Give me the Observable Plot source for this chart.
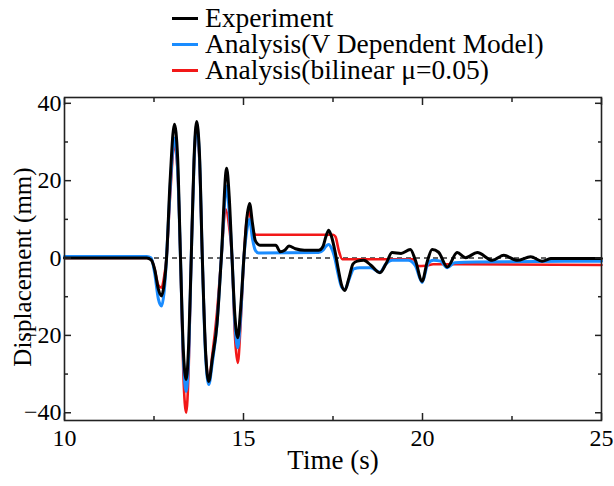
<!DOCTYPE html>
<html><head><meta charset="utf-8">
<script src="https://cdn.jsdelivr.net/npm/d3@7"></script>
<script src="https://cdn.jsdelivr.net/npm/@observablehq/plot@0.6"></script>
<style>
body{margin:0;background:#fff;font-family:"Liberation Serif",serif;}
#legend{position:relative;width:614px;height:86px;}
.row{position:absolute;left:172px;height:26px;display:flex;align-items:center;color:#000;white-space:nowrap}
.sw{width:26px;height:3px;margin-right:7px;flex:none}
.tx{display:block;height:26px;line-height:26px;font-size:27.5px;overflow:visible}
#chart svg{display:block}
#chart svg text{font-family:"Liberation Serif",serif !important;}
</style></head><body>
<div id="legend"></div><div id="chart"></div>
<script>
// Series names and colours
const seriesNames = ["Experiment", "Analysis(V Dependent Model)", "Analysis(bilinear μ=0.05)"];
const seriesColors = ["#000000", "#1a8cff", "#f21818"];

// Experiment (black)
const expT = [10, 12.3, 12.42, 12.52, 12.62, 12.71, 12.78, 12.85, 12.95, 13.07, 13.16, 13.24, 13.32, 13.40, 13.47, 13.54, 13.62, 13.69, 13.77, 13.85, 13.94, 14.03, 14.13, 14.26, 14.38, 14.53, 14.6, 14.68, 14.76, 14.84, 14.92, 15.01, 15.09, 15.17, 15.25, 15.33, 15.46, 15.9, 16.03, 16.15, 16.27, 16.45, 16.7, 17.1, 17.22, 17.3, 17.38, 17.46, 17.55, 17.64, 17.74, 17.83, 17.95, 18.06, 18.18, 18.36, 18.55, 18.81, 18.98, 19.15, 19.4, 19.66, 19.8, 19.99, 20.13, 20.27, 20.45, 20.69, 20.97, 21.2, 21.53, 21.95, 22.27, 22.65, 23.02, 23.34, 23.6, 25];
const expV = [0, 0, -0.5, -3, -8, -9.8, -7, 0, 20, 34.6, 26, 0, -24, -31.4, -22, 0, 26, 35.3, 27, 0, -24, -31.9, -26, -17, 0, 23.2, 16, 0, -15, -20.6, -13, 0, 10, 14.1, 9, 4.5, 3.3, 3.3, 1.6, 2.0, 3.1, 2.4, 2.0, 2.0, 3, 5.5, 7.2, 5.5, 2, -2.5, -7, -8.4, -5, -1.5, -0.8, -0.6, -1.8, -3.8, -1.5, 1.4, 1.2, 2.2, -0.5, -6.0, -1, 2.2, 1.5, -2.3, 1.4, 0.1, 1.4, -0.6, 0.7, -0.6, 0.3, -0.8, -0.1, -0.1];

// Analysis (V dependent model, blue)
const vdT = [10, 12.3, 12.42, 12.52, 12.62, 12.71, 12.78, 12.85, 12.95, 13.07, 13.16, 13.24, 13.32, 13.40, 13.47, 13.54, 13.62, 13.69, 13.77, 13.85, 13.94, 14.03, 14.13, 14.26, 14.38, 14.53, 14.6, 14.68, 14.76, 14.84, 14.92, 15.01, 15.09, 15.17, 15.25, 15.33, 15.42, 17.1, 17.22, 17.3, 17.38, 17.46, 17.55, 17.64, 17.74, 17.83, 17.95, 18.08, 18.25, 18.55, 18.81, 18.98, 19.15, 19.6, 19.8, 19.99, 20.15, 20.3, 20.5, 20.69, 20.9, 21.5, 25];
const vdV = [0.4, 0.4, 0, -4, -10.5, -12.4, -9, 0, 18, 31, 23, 0, -26, -34.5, -25, 0, 25, 34, 26, 0, -25, -32.7, -27, -17, 0, 18.6, 12, 0, -17, -23.2, -15, 0, 7, 10, 5, 2, 1.3, 1.4, 2, 3, 3.5, 2.5, 0, -4, -7.5, -8.2, -5.5, -2.8, -2.5, -2.5, -3.7, -1.5, -0.6, -0.6, -2, -6.3, -1.5, -0.6, -0.8, -2.5, -1.2, -1.0, -0.8];

// Analysis (bilinear, red)
const biT = [10, 12.3, 12.42, 12.52, 12.62, 12.71, 12.78, 12.85, 12.95, 13.07, 13.16, 13.24, 13.32, 13.40, 13.47, 13.54, 13.62, 13.69, 13.77, 13.85, 13.94, 14.03, 14.13, 14.26, 14.38, 14.5, 14.6, 14.68, 14.76, 14.84, 14.92, 15.01, 15.08, 15.15, 15.25, 15.35, 17.5, 17.57, 17.66, 17.76, 19.75, 19.85, 20.1, 20.3, 25];
const biV = [0, 0, -0.3, -3, -7, -7.7, -5, 0, 16, 29.5, 22, 0, -30, -40, -28, 0, 25, 33.5, 25, 0, -24, -31.5, -25, -14, 0, 12.6, 8, 0, -20, -27.1, -17, 0, 9, 12.2, 7.5, 6.0, 6.0, 5.5, 2, -0.3, -0.3, -2.1, -2.0, -1.6, -1.8];

// Ticks
const xMajor = [10, 15, 20, 25];
const xMinor = [12.5, 17.5, 22.5];
const yMajor = [-40, -20, 0, 20, 40];
const yMinor = [-30, -10, 10, 30];

const toRows = (T, V) => T.map((t, i) => ({t, v: V[i]}));
const expRows = toRows(expT, expV);
const vdRows = toRows(vdT, vdV);
const biRows = toRows(biT, biV);

// Legend
const legend = document.getElementById("legend");
seriesNames.forEach((name, i) => {
  const row = document.createElement("div");
  row.className = "row";
  row.style.top = (5 + i * 26) + "px";
  const sw = document.createElement("span");
  sw.className = "sw";
  sw.style.background = seriesColors[i];
  const tx = document.createElement("span");
  tx.className = "tx";
  tx.textContent = name;
  row.append(sw, tx);
  legend.append(row);
});

const font = "Liberation Serif";
const blank = () => "";
const fmt = d => (d < 0 ? "\u2212" + Math.abs(d) : String(d));
const frameColor = "#222";

const chart = Plot.plot({
  width: 614,
  height: 400,
  marginTop: 11,
  marginBottom: 66,
  marginLeft: 64,
  marginRight: 13,
  style: {fontFamily: font, fontSize: "20px", background: "#fff", color: "#000"},
  x: {domain: [10, 25]},
  y: {domain: [-42, 41.5]},
  marks: [
    Plot.ruleY([0], {stroke: "#333", strokeWidth: 1.5, strokeDasharray: "5,4"}),
    Plot.line(biRows, {x: "t", y: "v", stroke: seriesColors[2], strokeWidth: 2.6, curve: "monotone-x"}),
    Plot.line(vdRows, {x: "t", y: "v", stroke: seriesColors[1], strokeWidth: 3, curve: "monotone-x"}),
    Plot.line(expRows, {x: "t", y: "v", stroke: seriesColors[0], strokeWidth: 3, curve: "monotone-x"}),
    // inward ticks
    Plot.axisX(xMajor, {anchor: "bottom", tickSize: 7, dy: -7, tickFormat: blank, label: null, stroke: frameColor, strokeWidth: 1.5}),
    Plot.axisX(xMinor, {anchor: "bottom", tickSize: 4, dy: -4, tickFormat: blank, label: null, stroke: frameColor, strokeWidth: 1.5}),
    Plot.axisX(xMajor, {anchor: "top", tickSize: 7, dy: 7, tickFormat: blank, label: null, stroke: frameColor, strokeWidth: 1.5}),
    Plot.axisX(xMinor, {anchor: "top", tickSize: 4, dy: 4, tickFormat: blank, label: null, stroke: frameColor, strokeWidth: 1.5}),
    Plot.axisY(yMajor, {anchor: "left", tickSize: 7, dx: 7, tickFormat: blank, label: null, stroke: frameColor, strokeWidth: 1.5}),
    Plot.axisY(yMinor, {anchor: "left", tickSize: 4, dx: 4, tickFormat: blank, label: null, stroke: frameColor, strokeWidth: 1.5}),
    Plot.axisY(yMajor, {anchor: "right", tickSize: 7, dx: -7, tickFormat: blank, label: null, stroke: frameColor, strokeWidth: 1.5}),
    Plot.axisY(yMinor, {anchor: "right", tickSize: 4, dx: -4, tickFormat: blank, label: null, stroke: frameColor, strokeWidth: 1.5}),
    // tick labels (text marks, serif)
    Plot.text(xMajor, {x: d => d, frameAnchor: "bottom", lineAnchor: "top", dy: 8, text: fmt, fontSize: 24, fontFamily: font, fill: "#000"}),
    Plot.text(yMajor, {y: d => d, frameAnchor: "left", textAnchor: "end", dx: -3, text: fmt, fontSize: 24, fontFamily: font, fill: "#000"}),
    Plot.frame({stroke: frameColor, strokeWidth: 1.6}),
    // axis titles
    Plot.text(["Time (s)"], {frameAnchor: "bottom", dy: 48, fontSize: 27, fontFamily: font, fill: "#000"}),
    Plot.text(["Displacement (mm)"], {frameAnchor: "left", textAnchor: "middle", rotate: -90, dx: -42, dy: 8, fontSize: 25, fontFamily: font, fill: "#000"})
  ]
});
document.getElementById("chart").append(chart);
</script>
</body></html>
